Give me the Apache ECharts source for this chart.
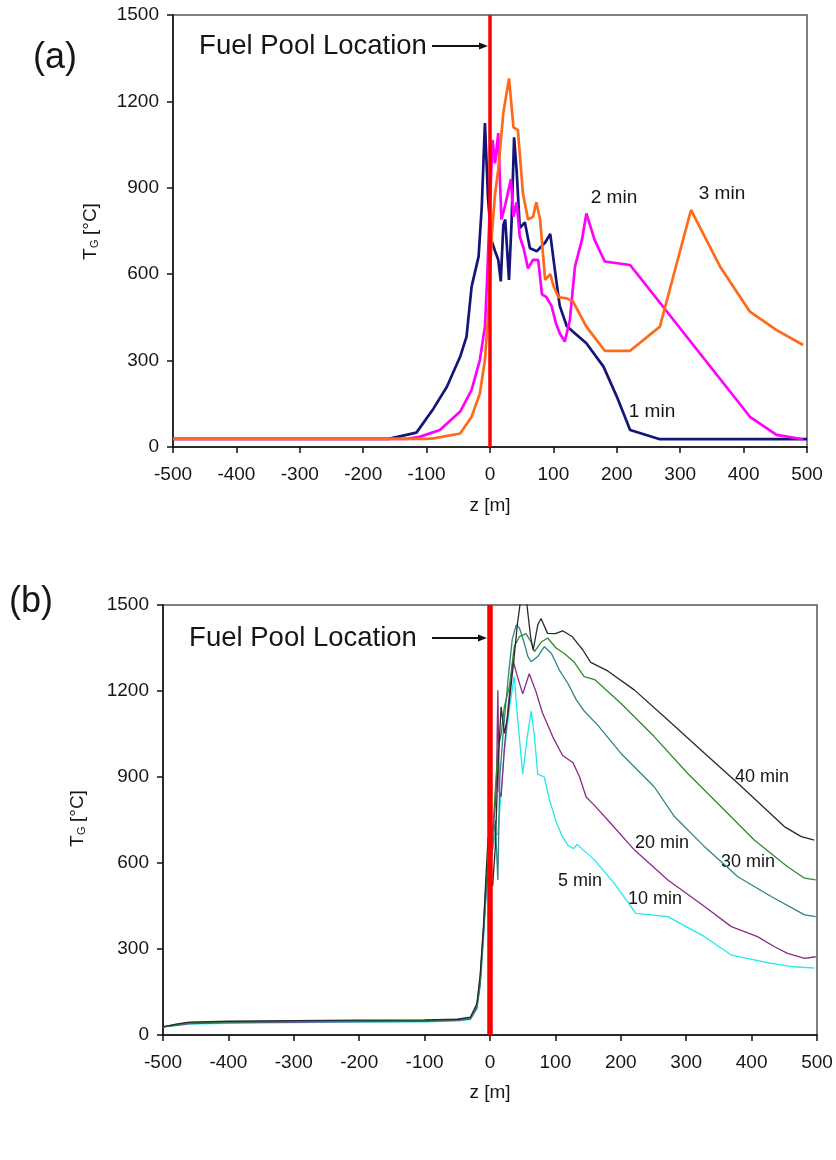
<!DOCTYPE html>
<html><head><meta charset="utf-8">
<script src="https://cdn.jsdelivr.net/npm/echarts@6/dist/echarts.min.js"></script>
<style>html,body{margin:0;padding:0;background:#fff}#c{width:836px;height:1160px}</style>
</head><body><div id="c"></div>
<script>
// ---------- Panel (a) data ----------
const zA1 = [-500,-160,-116,-89,-68,-47,-37,-29,-18,-13,-8,-3,2,8,13,17,21,24,30,34,38,42,47,55,63,74,87,95,102,110,121,131,152,179,200,221,268,500];
const tA1 = [28,28,50,134,209,314,383,557,661,834,1125,860,720,680,650,575,770,790,580,780,1075,960,760,780,690,680,710,740,620,490,420,400,360,279,175,59,27,27];

const zA2 = [-500,-130,-110,-79,-47,-29,-16,-8,-5,0,4,8,13,18,24,28,33,37,42,47,53,60,68,76,82,89,97,104,110,118,126,134,145,152,165,181,221,410,452,494];
const tA2 = [28,28,36,59,123,198,302,418,560,850,1066,985,1090,790,840,880,930,800,850,730,690,620,650,650,530,520,490,430,395,366,441,626,719,811,719,644,632,105,42,27];

const zA3 = [-500,-100,-89,-47,-29,-16,-8,-3,3,8,13,21,30,37,44,52,60,68,73,79,87,95,100,108,121,131,152,181,221,268,317,363,410,452,494];
const tA3 = [28,28,30,47,105,186,302,453,740,880,962,1159,1280,1110,1100,880,790,800,850,790,580,600,560,520,516,505,418,334,334,418,823,626,470,406,354];

// ---------- Panel (b) data ----------
const zB40 = [-500,-480,-460,-400,-300,-200,-100,-50,-30,-20,-15,-10,-6,-3,0,4,8,12,17,22,27,37,42,47,55,62,66,73,78,88,100,111,126,142,154,180,221,272,328,379,450,476,496];
const tB40 = [28,38,45,48,50,52,53,55,62,110,210,380,560,690,560,520,650,924,1145,1052,1110,1320,1436,1520,1530,1390,1343,1430,1453,1401,1400,1410,1389,1343,1300,1270,1203,1099,983,878,727,692,680];

const zB30 = [-500,-480,-460,-400,-300,-200,-100,-50,-30,-20,-15,-10,-6,-3,0,4,8,12,17,22,30,37,45,55,63,68,78,88,101,114,129,144,160,200,251,302,353,404,455,481,498];
const tB30 = [28,36,43,46,48,50,51,54,60,105,200,370,540,600,620,700,850,994,1050,1145,1220,1354,1390,1400,1370,1337,1370,1385,1350,1330,1300,1250,1240,1157,1041,913,797,680,587,547,541];

const zB20 = [-500,-480,-460,-400,-300,-200,-100,-50,-30,-20,-15,-10,-6,-3,0,4,8,12,15,20,28,34,40,45,52,58,63,73,83,94,106,119,132,144,165,200,251,282,328,379,430,481,498];
const tB20 = [28,35,42,45,47,49,50,53,58,100,190,360,520,580,600,650,750,541,900,1050,1250,1380,1430,1420,1370,1320,1302,1320,1355,1331,1273,1227,1169,1130,1080,983,866,762,657,552,483,419,413];

const zB10 = [-500,-480,-460,-400,-300,-200,-100,-50,-30,-20,-15,-10,-6,-3,0,4,8,10,12,14,17,22,28,35,42,50,60,70,80,96,111,127,137,147,160,180,221,272,328,369,409,435,455,481,498];
const tB10 = [28,34,40,43,45,47,48,51,56,95,180,350,500,560,600,700,800,900,1203,850,831,1000,1150,1308,1250,1190,1260,1200,1125,1040,975,950,900,830,800,750,645,541,448,378,343,308,285,267,273];

const zB5 = [-500,-480,-460,-400,-300,-200,-100,-50,-30,-20,-15,-10,-6,-3,0,4,8,12,17,22,30,37,42,50,57,63,68,73,83,91,101,111,120,128,133,160,190,223,272,328,369,430,465,496];
const tB5 = [28,33,38,41,43,45,46,49,54,90,170,330,480,540,580,650,700,700,850,994,1145,1250,1110,910,1040,1130,1040,910,900,820,745,690,660,650,665,610,529,424,413,343,279,250,238,233];

const pool = [[0,0],[0,1500]]; // fuel pool location, z = 0

const xMin = -500, xMax = 500, xStep = 100;
const yMin = 0, yMax = 1500, yStep = 300;

function pairs(z, t) { return z.map((v, i) => [v, t[i]]); }

const FONT = '"Liberation Sans", Arial, sans-serif';
const TXT = '#161616';

function axisX(gi) {
  return {
    type: 'value', gridIndex: gi, min: xMin, max: xMax, interval: xStep,
    axisLine: { show: true, onZero: false, lineStyle: { color: '#111', width: 1.5 } },
    axisTick: { show: true, inside: false, length: 6, lineStyle: { color: '#111', width: 1.5 } },
    axisLabel: { fontFamily: FONT, fontSize: 19, color: TXT, margin: 18, formatter: v => String(v) },
    splitLine: { show: false }
  };
}
function axisY(gi) {
  return {
    type: 'value', gridIndex: gi, min: yMin, max: yMax, interval: yStep,
    axisLine: { show: true, onZero: false, lineStyle: { color: '#111', width: 1.5 } },
    axisTick: { show: true, inside: false, length: 6, lineStyle: { color: '#111', width: 1.5 } },
    axisLabel: { fontFamily: FONT, fontSize: 19, color: TXT, margin: 14, formatter: v => String(v) },
    splitLine: { show: false }
  };
}
function line(name, gi, z, t, color, width) {
  return {
    name, type: 'line', xAxisIndex: gi, yAxisIndex: gi, data: pairs(z, t),
    showSymbol: false, symbol: 'none', clip: true, animation: false,
    lineStyle: { color, width }, z: 2
  };
}
function txt(text, x, y, size, extra) {
  return Object.assign({ type: 'text', x, y, style: { text, fontFamily: FONT, fontSize: size, fill: TXT, align: 'center', verticalAlign: 'middle' } }, extra || {});
}
function yTitle(cx, cy) {
  return {
    type: 'group', x: cx, y: cy, rotation: Math.PI / 2,
    children: [
      { type: 'text', x: -29, y: 0, style: { text: 'T', fontFamily: FONT, fontSize: 19, fill: TXT, align: 'left', verticalAlign: 'middle' } },
      { type: 'text', x: -17, y: 4, style: { text: 'G', fontFamily: FONT, fontSize: 11, fill: TXT, align: 'left', verticalAlign: 'middle' } },
      { type: 'text', x: -4, y: 0, style: { text: '[°C]', fontFamily: FONT, fontSize: 19, fill: TXT, align: 'left', verticalAlign: 'middle' } }
    ]
  };
}
function arrow(x1, x2, y) {
  return [
    { type: 'line', shape: { x1, y1: y, x2: x2 - 6, y2: y }, style: { stroke: '#111', lineWidth: 1.8 } },
    { type: 'polygon', shape: { points: [[x2, y], [x2 - 9, y - 3.5], [x2 - 9, y + 3.5]] }, style: { fill: '#111' } }
  ];
}

const chart = echarts.init(document.getElementById('c'), null, { renderer: 'canvas' });
chart.setOption({
  backgroundColor: '#fff',
  animation: false,
  grid: [
    { left: 173, top: 15, width: 634, height: 432, show: true, borderColor: '#555', borderWidth: 1.5, backgroundColor: 'transparent' },
    { left: 163, top: 605, width: 654, height: 430, show: true, borderColor: '#555', borderWidth: 1.5, backgroundColor: 'transparent' }
  ],
  xAxis: [axisX(0), axisX(1)],
  yAxis: [axisY(0), axisY(1)],
  series: [
    line('1 min', 0, zA1, tA1, '#14147a', 2.7),
    line('2 min', 0, zA2, tA2, '#ff00ff', 2.7),
    line('3 min', 0, zA3, tA3, '#ff6a1a', 2.7),
    Object.assign(line('pool a', 0, pool.map(p => p[0]), pool.map(p => p[1]), '#ff0000', 3.5), { z: 5 }),
    line('5 min', 1, zB5, tB5, '#22e8ee', 1.3),
    line('10 min', 1, zB10, tB10, '#8a2a8a', 1.3),
    line('20 min', 1, zB20, tB20, '#2f8585', 1.3),
    line('30 min', 1, zB30, tB30, '#2e8b2e', 1.3),
    line('40 min', 1, zB40, tB40, '#2a2a2a', 1.3),
    Object.assign(line('pool b', 1, pool.map(p => p[0]), pool.map(p => p[1]), '#ff0000', 5.5), { z: 5 })
  ],
  graphic: [
    txt('(a)', 55, 58, 36),
    txt('Fuel Pool Location', 313, 46, 27.5),
    ...arrow(432, 488, 46),
    yTitle(91, 231),
    txt('z [m]', 490, 506, 19),
    txt('2 min', 614, 198, 19),
    txt('3 min', 722, 194, 19),
    txt('1 min', 652, 412, 19),

    txt('(b)', 31, 602, 36),
    txt('Fuel Pool Location', 303, 638, 27.5),
    ...arrow(432, 487, 638),
    yTitle(78, 818),
    txt('z [m]', 490, 1093, 19),
    txt('40 min', 762, 777, 18),
    txt('20 min', 662, 843, 18),
    txt('30 min', 748, 862, 18),
    txt('5 min', 580, 881, 18),
    txt('10 min', 655, 899, 18)
  ]
});
</script>
</body></html>
